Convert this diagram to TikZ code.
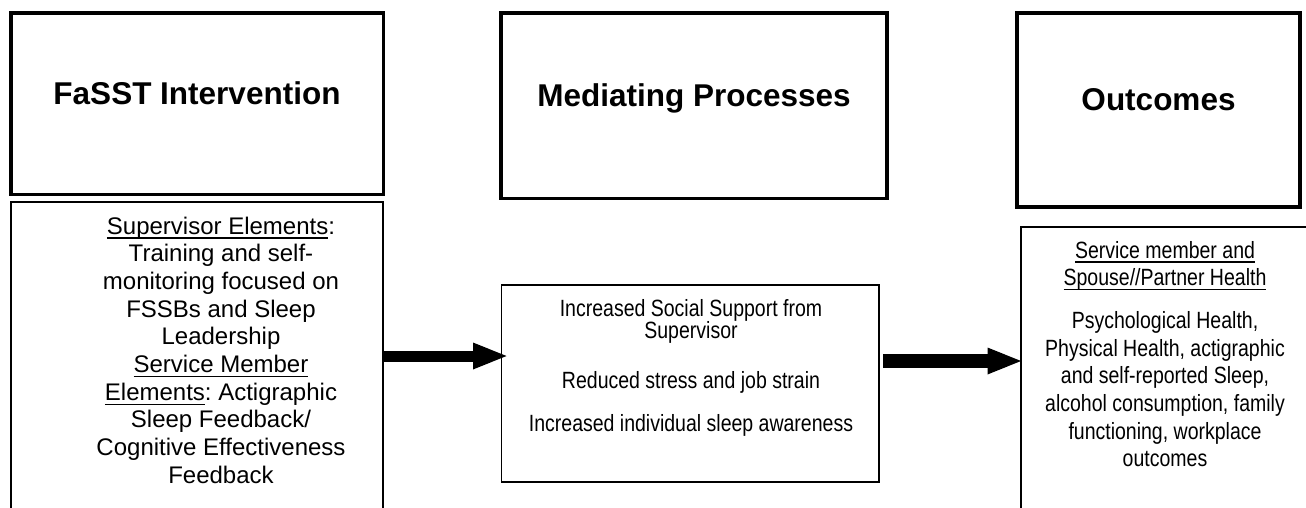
\documentclass[tikz,border=0pt]{standalone}
\usepackage{fontspec}
\setmainfont{Liberation Sans}
\newfontfamily\narrowfont{Liberation Sans}[FakeStretch=0.83]
\usetikzlibrary{arrows.meta}
\newcommand\myul[1]{\setbox0=\hbox{#1}\leavevmode\rlap{\rule[-4.7pt]{\wd0}{1.3pt}}\box0}
\frenchspacing
\begin{document}
\begin{tikzpicture}[x=1pt, y=-1pt,
  every node/.style={outer sep=0pt},
  headbox/.style={draw, line width=3.5pt, inner sep=0pt,
    font=\fontsize{31.5}{36}\selectfont\bfseries, text height=22pt, text depth=20pt},
  bodybox/.style={draw, line width=1.8pt, inner sep=0pt},
  bodytext/.style={anchor=base, inner sep=0pt},
  fatarrow/.style={-{Triangle[length=33.5pt, width=27pt, line width=0pt]}}]
\useasboundingbox (0,0) rectangle (1306,508);
\fill[white] (0,0) rectangle (1306,508);
\clip (0,0) rectangle (1306,508);

% top title boxes
\node[headbox, minimum width=372.5pt, minimum height=181.5pt] (ltop) at (197,103.75) {FaSST Intervention};
\node[headbox, minimum width=386pt, minimum height=185.5pt] (mtop) at (694,105.75) {Mediating Processes};
\node[headbox, minimum width=283pt, minimum height=194pt] (rtop) at (1158.5,110) {Outcomes};

% lower boxes
\node[bodybox, minimum width=372pt, minimum height=358pt] (lbot) at (197,381) {};
\node[bodybox, minimum width=377.5pt, minimum height=197pt] (mbot) at (690.25,383.5) {};
\node[bodybox, minimum width=319pt, minimum height=333pt] (rbot) at (1180.5,393.5) {};

% texts
\node[bodytext] (ltext) at (221,234) {\parbox[t]{300pt}{\centering\frenchspacing\fontsize{24}{27.7}\selectfont
  \myul{Supervisor Elements}:\\
  Training and self-\\
  monitoring focused on\\
  FSSBs and Sleep\\
  Leadership\\
  \myul{Service Member}\\
  \myul{Elements}: Actigraphic\\
  Sleep Feedback/\\
  Cognitive Effectiveness\\
  Feedback}};

\node[bodytext] (mtext) at (691,316) {\parbox[t]{360pt}{\centering\frenchspacing\narrowfont\fontsize{23.5}{22.5}\selectfont\lineskiplimit=-20pt
  Increased Social Support from\\
  Supervisor\\[27.5pt]
  Reduced stress and job strain\\[20.5pt]
  Increased individual sleep awareness}};

\node[bodytext] (rtext) at (1165,258) {\parbox[t]{300pt}{\centering\frenchspacing\narrowfont\fontsize{23.5}{27.6}\selectfont
  \myul{Service member and}\\
  \myul{Spouse//Partner Health}\\[15.4pt]
  Psychological Health,\\
  Physical Health, actigraphic\\
  and self-reported Sleep,\\
  alcohol consumption, family\\
  functioning, workplace\\
  outcomes}};

% arrows
\coordinate (a1e) at ([xshift=5pt]mbot.west);
\coordinate (a2s) at ([xshift=4pt]mbot.east);
\draw[fatarrow, line width=11pt] (lbot.east |- 0,356) -- (a1e |- 0,356);
\draw[fatarrow, line width=13.5pt] (a2s |- 0,361) -- (rbot.west |- 0,361);
\end{tikzpicture}
\end{document}
